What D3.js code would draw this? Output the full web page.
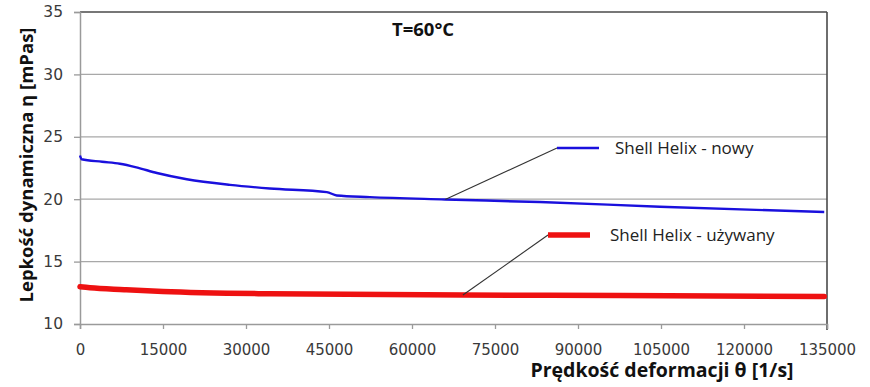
<!DOCTYPE html>
<html lang="pl">
<head>
<meta charset="utf-8">
<title>Lepkość dynamiczna</title>
<script src="https://d3js.org/d3.v7.min.js"></script>
<style>
  body { margin: 0; background: #fff; }
  svg text { font-family: "Open Sans", "DejaVu Sans", sans-serif; }
  .tick text { fill: #3a3a3a; font-family: "DejaVu Sans", sans-serif; }
</style>
</head>
<body>
<svg id="chart"></svg>
<script>
// data
const xTicks = [0, 15000, 30000, 45000, 60000, 75000, 90000, 105000, 120000, 135000];
const yTicks = [10, 15, 20, 25, 30, 35];

const nowyX = [0, 300, 4000, 7200, 10200, 13900, 19300, 27100, 34300, 44600, 46400, 52400, 66000, 83100, 104800, 134500];
const nowyY = [23.5, 23.2, 23.0, 22.84, 22.55, 22.1, 21.6, 21.15, 20.86, 20.57, 20.3, 20.17, 19.98, 19.77, 19.4, 18.97];

const uzywX = [0, 1800, 8000, 15000, 34300, 69200, 97600, 134500];
const uzywY = [12.98, 12.9, 12.75, 12.6, 12.42, 12.32, 12.28, 12.2];

const seriesNames = ['Shell Helix - nowy', 'Shell Helix - używany'];
const anchorX = [66000, 69200];   // where the leader lines touch each curve

const width = 870, height = 387;
const margin = {top: 12, right: 43, bottom: 63, left: 80};
const w = width - margin.left - margin.right;
const h = height - margin.top - margin.bottom;

const svg = d3.select('#chart')
  .attr('width', width)
  .attr('height', height);

const chart = svg.append('g')
  .attr('transform', `translate(${margin.left},${margin.top})`);

const x = d3.scaleLinear().domain([0, 135000]).range([0, w]);
const y = d3.scaleLinear().domain([10, 35]).range([h, 0]);

// horizontal gridlines
chart.append('g')
  .selectAll('line')
  .data(yTicks.filter(d => d > 10 && d < 35))
  .enter().append('line')
  .attr('x1', 0).attr('x2', w)
  .attr('y1', d => y(d)).attr('y2', d => y(d))
  .attr('stroke', '#a8a8a8')
  .attr('stroke-width', 1.3);

// frame top + right
chart.append('line')
  .attr('x1', 0).attr('x2', w).attr('y1', 0).attr('y2', 0)
  .attr('stroke', '#4a4a4a').attr('stroke-width', 1.6);
chart.append('line')
  .attr('x1', w).attr('x2', w).attr('y1', 0).attr('y2', h + 6)
  .attr('stroke', '#4a4a4a').attr('stroke-width', 1.6);

// axes
const xAxis = chart.append('g')
  .attr('transform', `translate(0,${h})`)
  .call(d3.axisBottom(x).tickValues(xTicks).tickFormat(d3.format('d')).tickSize(5).tickPadding(15));
xAxis.selectAll('.tick text').attr('font-size', 15);

const yAxis = chart.append('g')
  .call(d3.axisLeft(y).tickValues(yTicks).tickSize(6).tickPadding(11));
yAxis.selectAll('.tick text').attr('font-size', 15.5);

[xAxis, yAxis].forEach(a => {
  a.select('.domain').attr('stroke', '#9a9a9a').attr('stroke-width', 1.5);
  a.selectAll('.tick line').attr('stroke', '#9a9a9a').attr('stroke-width', 1.3);
});

// curves
const line = d3.line().x(d => x(d[0])).y(d => y(d[1])).curve(d3.curveMonotoneX);
const nowy = nowyX.map((d, i) => [d, nowyY[i]]);
const uzyw = uzywX.map((d, i) => [d, uzywY[i]]);

chart.append('path')
  .datum(uzyw)
  .attr('d', line)
  .attr('fill', 'none')
  .attr('stroke', '#ee1111')
  .attr('stroke-width', 5.5)
  .attr('stroke-linecap', 'round');

chart.append('path')
  .datum(nowy)
  .attr('d', line)
  .attr('fill', 'none')
  .attr('stroke', '#1a10dd')
  .attr('stroke-width', 2.4);

// labels with leader lines
const interp = (xs, ys, v) => {
  const i = d3.bisectLeft(xs, v);
  if (i <= 0) return ys[0];
  const t = (v - xs[i - 1]) / (xs[i] - xs[i - 1]);
  return ys[i - 1] + t * (ys[i] - ys[i - 1]);
};
const labelPos = [{lx: 477, ly: 136, tx: 58}, {lx: 468, ly: 223, tx: 62}];
const colors = ['#1a10dd', '#ee1111'];
const widths = [2.4, 5.5];
const sets = [[nowyX, nowyY], [uzywX, uzywY]];

seriesNames.forEach((name, i) => {
  const ax = x(anchorX[i]);
  const ay = y(interp(sets[i][0], sets[i][1], anchorX[i]));
  const p = labelPos[i];
  chart.append('line')
    .attr('x1', ax).attr('y1', ay).attr('x2', p.lx).attr('y2', p.ly)
    .attr('stroke', '#333').attr('stroke-width', 1.1);
  chart.append('line')
    .attr('x1', p.lx).attr('y1', p.ly).attr('x2', p.lx + 42).attr('y2', p.ly)
    .attr('stroke', colors[i]).attr('stroke-width', widths[i]);
  chart.append('text')
    .attr('x', p.lx + p.tx).attr('y', p.ly + 6)
    .attr('font-size', 17)
    .attr('fill', '#222')
    .text(name);
});

// temperature note
chart.append('text')
  .attr('x', 312).attr('y', 24)
  .attr('font-size', 18.5)
  .attr('font-weight', 'bold')
  .attr('fill', '#111')
  .text('T=60°C');

// axis titles
svg.append('text')
  .attr('x', 662).attr('y', 377)
  .attr('text-anchor', 'middle')
  .attr('font-size', 19.5)
  .attr('font-weight', 'bold')
  .attr('fill', '#111')
  .text('Prędkość deformacji θ [1/s]');

svg.append('text')
  .attr('transform', 'translate(33,165) rotate(-90)')
  .attr('text-anchor', 'middle')
  .attr('font-size', 18.5)
  .attr('font-weight', 'bold')
  .attr('fill', '#111')
  .text('Lepkość dynamiczna η [mPas]');
</script>
</body>
</html>
